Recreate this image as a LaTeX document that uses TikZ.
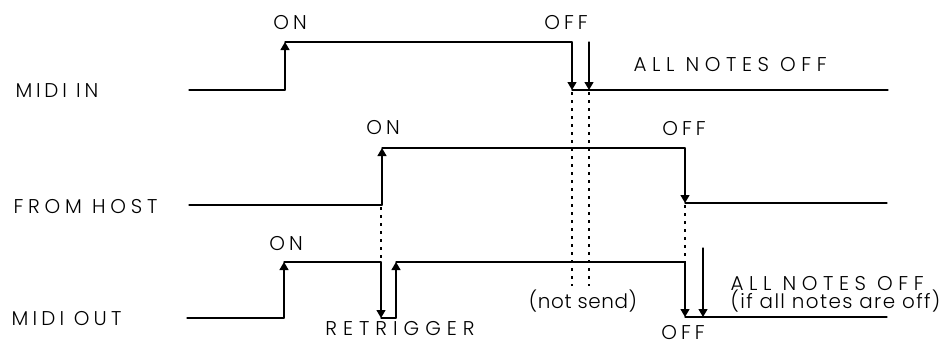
\documentclass[tikz,border=0pt]{standalone}
\usepackage{fontspec}
\setmainfont{Poppins}[UprightFont=* Light]
\usetikzlibrary{arrows.meta}
\begin{document}
\begin{tikzpicture}[x=1bp,y=-1bp,line width=1.2bp,line cap=round,
  tip/.style={-{Triangle[width=9bp,length=8bp]}},
  dots/.style={line width=1.1bp,dash pattern=on 3bp off 5bp,line cap=butt},
  lbl/.style={inner sep=0pt,font=\fontsize{20}{24}\selectfont\addfontfeature{LetterSpace=#1}},
  lbl/.default=20]
\useasboundingbox[fill=white] (0,0) rectangle (945,346);

% row labels
\node[lbl=19,anchor=base west] (lin)   at (15,97)  {MIDI IN};
\node[lbl=24,anchor=base west] (lhost) at (13,213) {FROM HOST};
\node[lbl=21,anchor=base west] (lout)  at (11,325) {MIDI OUT};

% event labels
\node[lbl=20,anchor=base] (on1)  at (290,29)  {ON};
\node[lbl=20,anchor=base] (off1) at (566,29)  {OFF};
\node[lbl=28,anchor=base west] (anf1) at (633,71) {ALL NOTES OFF};
\node[lbl=20,anchor=base] (on2)  at (383,134) {ON};
\node[lbl=20,anchor=base] (off2) at (684,135) {OFF};
\node[lbl=20,anchor=base] (on3)  at (286,250) {ON};
\node[lbl=30,anchor=base] (retr) at (400,335) {RETRIGGER};
\node[lbl=3,anchor=base] (nsend) at (583,308) {(not send)};
\node[lbl=28,anchor=base west] (anf2) at (730,290) {ALL NOTES OFF};
\node[lbl=7,anchor=base west] (ifoff) at (730,308) {(if all notes are off)};
\node[lbl=20,anchor=base] (off3) at (683,339) {OFF};

% MIDI IN waveform
\draw (189,90) -- (285,90);
\draw[tip] (285,90) -- (285,42);
\draw (285,42) -- (572,42);
\draw[tip] (572,42) -- (572,90);
\draw[tip] (589,42) -- (589,90);
\draw (572,90) -- (888,90);

% FROM HOST waveform
\draw (189,205) -- (382,205);
\draw[tip] (382,205) -- (382,148);
\draw (382,148) -- (685,148);
\draw[tip] (685,148) -- (685,203);
\draw (685,203) -- (887,203);

% MIDI OUT waveform
\draw (187,318) -- (284,318);
\draw[tip] (284,318) -- (284,262);
\draw (284,262) -- (381,262);
\draw[tip] (381,262) -- (381,318);
\draw (381,318) -- (396,318);
\draw[tip] (396,318) -- (396,262);
\draw (396,262) -- (685,262);
\draw[tip] (685,262) -- (685,317);
\draw[tip] (703,248) -- (703,317);
\draw (685,317) -- (887,317);

% dotted guides
\draw[dots] (572,92) -- (572,286);
\draw[dots] (589,92) -- (589,286);
\draw[dots] (381,207) -- (381,262);
\draw[dots] (685,205) -- (685,262);
\end{tikzpicture}
\end{document}
